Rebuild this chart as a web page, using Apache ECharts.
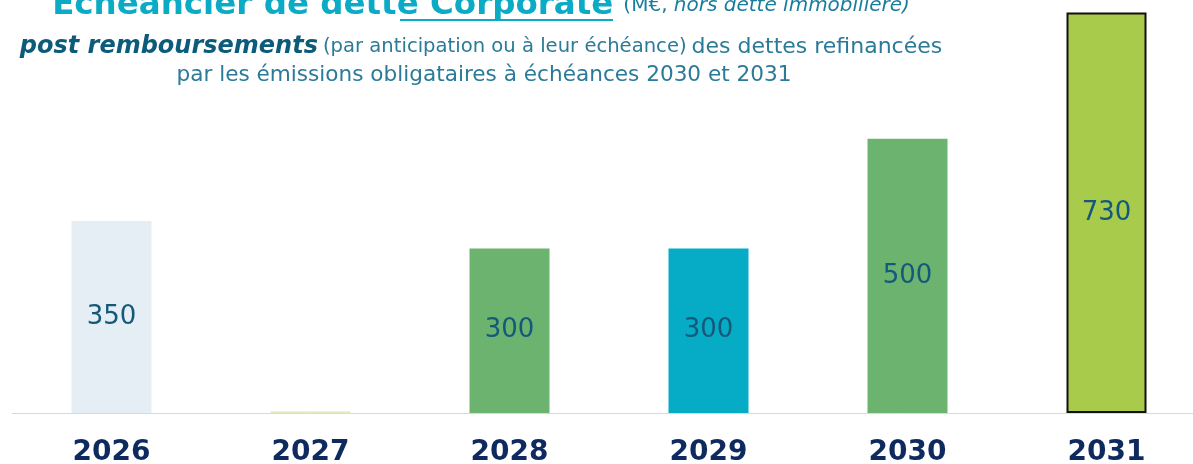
<!DOCTYPE html>
<html>
<head>
<meta charset="utf-8">
<script src="https://cdn.jsdelivr.net/npm/echarts@6/dist/echarts.min.js"></script>
<style>
  html, body { margin: 0; padding: 0; background: #fff; }
  #chart { width: 1193px; height: 464px; }
</style>
</head>
<body>
<div id="chart"></div>
<script>
const years = ['2026', '2027', '2028', '2029', '2030', '2031'];
const amounts = [350, 3, 300, 300, 500, 730];
const barColors = ['#e5eef5', '#e3eec5', '#6db370', '#06acc5', '#6db370', '#a8cb4b'];
const shownLabels = ['350', '', '300', '300', '500', '730'];

const chart = echarts.init(document.getElementById('chart'));
const font = "'DejaVu Sans', sans-serif";

chart.setOption({
  animation: false,
  title: [
    {
      left: 476, top: -16, textAlign: 'center',
      text: '{a|Echéancier de dette Corporate}  {p|(M€, }{i|hors dette immobilière)}',
      textStyle: {
        rich: {
          a: { fontFamily: font, fontSize: 32.5, fontWeight: 'bold', color: '#0babc5' },
          p: { fontFamily: font, fontSize: 20, fontWeight: 'normal', color: '#1a7d9c' },
          i: { fontFamily: font, fontSize: 20, fontWeight: 'normal', fontStyle: 'italic', color: '#1a7d9c' }
        }
      }
    },
    {
      left: 476, top: 30, textAlign: 'center',
      text: '{b|post remboursements} {s|(par anticipation ou à leur échéance)} {m|des dettes refinancées}',
      textStyle: {
        rich: {
          b: { fontFamily: font, fontSize: 24, fontWeight: 'bold', fontStyle: 'italic', color: '#0d5b7b' },
          s: { fontFamily: font, fontSize: 19.6, fontWeight: 'normal', color: '#2a7a98' },
          m: { fontFamily: font, fontSize: 22, fontWeight: 'normal', color: '#2a7a98' }
        }
      }
    },
    {
      left: 479, top: 59, textAlign: 'center',
      text: 'par les émissions obligataires à échéances 2030 et 2031',
      textStyle: { fontFamily: font, fontSize: 21.6, fontWeight: 'normal', color: '#2a7a98' }
    }
  ],
  graphic: [
    { type: 'rect', shape: { x: 400, y: 19, width: 213, height: 2 }, style: { fill: '#0babc5' } }
  ],
  grid: { left: 12, top: 0, width: 1194, bottom: 51, outerBoundsMode: 'none' },
  xAxis: {
    type: 'category', data: years,
    axisLine: { lineStyle: { color: '#d9d9d9', width: 1 } },
    axisTick: { show: false },
    axisLabel: { color: '#0e2a5e', fontSize: 28, fontWeight: 'bold', fontFamily: font, margin: 26 }
  },
  yAxis: { type: 'value', min: 0, max: 753, show: false, splitLine: { show: false } },
  series: [{
    type: 'bar',
    barWidth: 80,
    data: amounts.map((v, i) => ({
      value: v,
      itemStyle: i === 5
        ? { color: barColors[i], borderColor: '#111', borderWidth: 2 }
        : { color: barColors[i] },
      label: { formatter: shownLabels[i] }
    })),
    label: {
      show: true, position: 'inside',
      color: '#15597a', fontSize: 26, fontFamily: font, fontWeight: 'normal'
    }
  }]
});
</script>
</body>
</html>
